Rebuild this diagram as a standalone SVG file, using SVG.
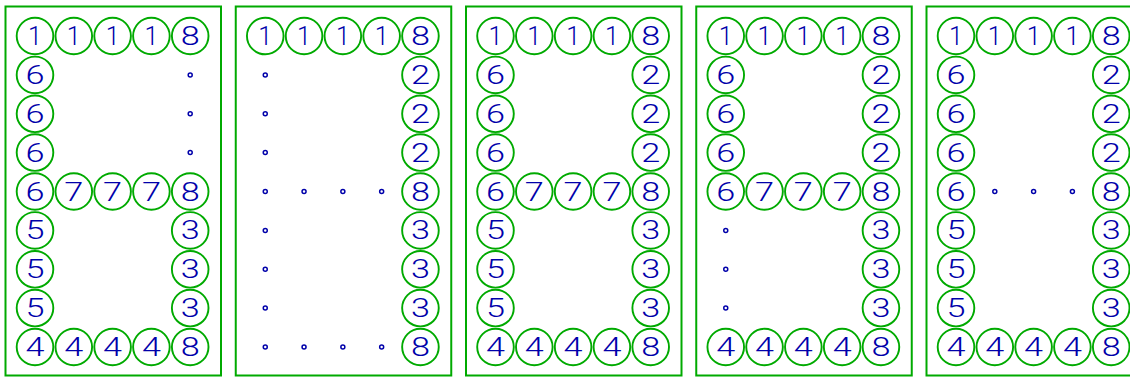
<svg xmlns="http://www.w3.org/2000/svg" width="1130" height="377" viewBox="0 0 1130 377">
<style>
.frame{fill:none;stroke:#00aa00;stroke-width:2}
.n circle{fill:none;stroke:#00aa00;stroke-width:1.9}
.n text{font-family:Roboto,"DejaVu Sans",sans-serif;font-weight:300;font-size:25px;fill:#0000aa;text-anchor:middle}
.dot{fill:none;stroke:#0000aa;stroke-width:1.5}
</style>
<rect width="1130" height="377" fill="#fff"/>

<!-- Panel 1 -->
<g id="panel1" transform="translate(5,0)">
<rect class="frame" x="0.5" y="6.5" width="215.5" height="369"/>
<g id="p1-0-0" class="n" transform="translate(30,36)"><circle r="18.3"/><text y="9">1</text></g>
<g id="p1-0-1" class="n" transform="translate(68.8,36)"><circle r="18.3"/><text y="9">1</text></g>
<g id="p1-0-2" class="n" transform="translate(107.6,36)"><circle r="18.3"/><text y="9">1</text></g>
<g id="p1-0-3" class="n" transform="translate(146.4,36)"><circle r="18.3"/><text y="9">1</text></g>
<g id="p1-0-4" class="n" transform="translate(185.2,36)"><circle r="18.3"/><text y="9" textLength="19" lengthAdjust="spacingAndGlyphs">8</text></g>
<g id="p1-1-0" class="n" transform="translate(30,74.9)"><circle r="18.3"/><text y="9" textLength="19" lengthAdjust="spacingAndGlyphs">6</text></g>
<circle id="p1-1-4" class="dot" cx="185.2" cy="74.9" r="2"/>
<g id="p1-2-0" class="n" transform="translate(30,113.8)"><circle r="18.3"/><text y="9" textLength="19" lengthAdjust="spacingAndGlyphs">6</text></g>
<circle id="p1-2-4" class="dot" cx="185.2" cy="113.8" r="2"/>
<g id="p1-3-0" class="n" transform="translate(30,152.6)"><circle r="18.3"/><text y="9" textLength="19" lengthAdjust="spacingAndGlyphs">6</text></g>
<circle id="p1-3-4" class="dot" cx="185.2" cy="152.6" r="2"/>
<g id="p1-4-0" class="n" transform="translate(30,191.5)"><circle r="18.3"/><text y="9" textLength="19" lengthAdjust="spacingAndGlyphs">6</text></g>
<g id="p1-4-1" class="n" transform="translate(68.8,191.5)"><circle r="18.3"/><text y="9" textLength="19" lengthAdjust="spacingAndGlyphs">7</text></g>
<g id="p1-4-2" class="n" transform="translate(107.6,191.5)"><circle r="18.3"/><text y="9" textLength="19" lengthAdjust="spacingAndGlyphs">7</text></g>
<g id="p1-4-3" class="n" transform="translate(146.4,191.5)"><circle r="18.3"/><text y="9" textLength="19" lengthAdjust="spacingAndGlyphs">7</text></g>
<g id="p1-4-4" class="n" transform="translate(185.2,191.5)"><circle r="18.3"/><text y="9" textLength="19" lengthAdjust="spacingAndGlyphs">8</text></g>
<g id="p1-5-0" class="n" transform="translate(30,230.4)"><circle r="18.3"/><text y="9" textLength="19" lengthAdjust="spacingAndGlyphs">5</text></g>
<g id="p1-5-4" class="n" transform="translate(185.2,230.4)"><circle r="18.3"/><text y="9" textLength="19" lengthAdjust="spacingAndGlyphs">3</text></g>
<g id="p1-6-0" class="n" transform="translate(30,269.3)"><circle r="18.3"/><text y="9" textLength="19" lengthAdjust="spacingAndGlyphs">5</text></g>
<g id="p1-6-4" class="n" transform="translate(185.2,269.3)"><circle r="18.3"/><text y="9" textLength="19" lengthAdjust="spacingAndGlyphs">3</text></g>
<g id="p1-7-0" class="n" transform="translate(30,308.1)"><circle r="18.3"/><text y="9" textLength="19" lengthAdjust="spacingAndGlyphs">5</text></g>
<g id="p1-7-4" class="n" transform="translate(185.2,308.1)"><circle r="18.3"/><text y="9" textLength="19" lengthAdjust="spacingAndGlyphs">3</text></g>
<g id="p1-8-0" class="n" transform="translate(30,347)"><circle r="18.3"/><text y="9" textLength="19" lengthAdjust="spacingAndGlyphs">4</text></g>
<g id="p1-8-1" class="n" transform="translate(68.8,347)"><circle r="18.3"/><text y="9" textLength="19" lengthAdjust="spacingAndGlyphs">4</text></g>
<g id="p1-8-2" class="n" transform="translate(107.6,347)"><circle r="18.3"/><text y="9" textLength="19" lengthAdjust="spacingAndGlyphs">4</text></g>
<g id="p1-8-3" class="n" transform="translate(146.4,347)"><circle r="18.3"/><text y="9" textLength="19" lengthAdjust="spacingAndGlyphs">4</text></g>
<g id="p1-8-4" class="n" transform="translate(185.2,347)"><circle r="18.3"/><text y="9" textLength="19" lengthAdjust="spacingAndGlyphs">8</text></g>
</g>

<!-- Panel 2 -->
<g id="panel2" transform="translate(235.25,0)">
<rect class="frame" x="0.5" y="6.5" width="215.5" height="369"/>
<g id="p2-0-0" class="n" transform="translate(30,36)"><circle r="18.3"/><text y="9">1</text></g>
<g id="p2-0-1" class="n" transform="translate(68.8,36)"><circle r="18.3"/><text y="9">1</text></g>
<g id="p2-0-2" class="n" transform="translate(107.6,36)"><circle r="18.3"/><text y="9">1</text></g>
<g id="p2-0-3" class="n" transform="translate(146.4,36)"><circle r="18.3"/><text y="9">1</text></g>
<g id="p2-0-4" class="n" transform="translate(185.2,36)"><circle r="18.3"/><text y="9" textLength="19" lengthAdjust="spacingAndGlyphs">8</text></g>
<circle id="p2-1-0" class="dot" cx="30" cy="74.9" r="2"/>
<g id="p2-1-4" class="n" transform="translate(185.2,74.9)"><circle r="18.3"/><text y="9" textLength="19" lengthAdjust="spacingAndGlyphs">2</text></g>
<circle id="p2-2-0" class="dot" cx="30" cy="113.8" r="2"/>
<g id="p2-2-4" class="n" transform="translate(185.2,113.8)"><circle r="18.3"/><text y="9" textLength="19" lengthAdjust="spacingAndGlyphs">2</text></g>
<circle id="p2-3-0" class="dot" cx="30" cy="152.6" r="2"/>
<g id="p2-3-4" class="n" transform="translate(185.2,152.6)"><circle r="18.3"/><text y="9" textLength="19" lengthAdjust="spacingAndGlyphs">2</text></g>
<circle id="p2-4-0" class="dot" cx="30" cy="191.5" r="2"/>
<circle id="p2-4-1" class="dot" cx="68.8" cy="191.5" r="2"/>
<circle id="p2-4-2" class="dot" cx="107.6" cy="191.5" r="2"/>
<circle id="p2-4-3" class="dot" cx="146.4" cy="191.5" r="2"/>
<g id="p2-4-4" class="n" transform="translate(185.2,191.5)"><circle r="18.3"/><text y="9" textLength="19" lengthAdjust="spacingAndGlyphs">8</text></g>
<circle id="p2-5-0" class="dot" cx="30" cy="230.4" r="2"/>
<g id="p2-5-4" class="n" transform="translate(185.2,230.4)"><circle r="18.3"/><text y="9" textLength="19" lengthAdjust="spacingAndGlyphs">3</text></g>
<circle id="p2-6-0" class="dot" cx="30" cy="269.3" r="2"/>
<g id="p2-6-4" class="n" transform="translate(185.2,269.3)"><circle r="18.3"/><text y="9" textLength="19" lengthAdjust="spacingAndGlyphs">3</text></g>
<circle id="p2-7-0" class="dot" cx="30" cy="308.1" r="2"/>
<g id="p2-7-4" class="n" transform="translate(185.2,308.1)"><circle r="18.3"/><text y="9" textLength="19" lengthAdjust="spacingAndGlyphs">3</text></g>
<circle id="p2-8-0" class="dot" cx="30" cy="347" r="2"/>
<circle id="p2-8-1" class="dot" cx="68.8" cy="347" r="2"/>
<circle id="p2-8-2" class="dot" cx="107.6" cy="347" r="2"/>
<circle id="p2-8-3" class="dot" cx="146.4" cy="347" r="2"/>
<g id="p2-8-4" class="n" transform="translate(185.2,347)"><circle r="18.3"/><text y="9" textLength="19" lengthAdjust="spacingAndGlyphs">8</text></g>
</g>

<!-- Panel 3 -->
<g id="panel3" transform="translate(465.5,0)">
<rect class="frame" x="0.5" y="6.5" width="215.5" height="369"/>
<g id="p3-0-0" class="n" transform="translate(30,36)"><circle r="18.3"/><text y="9">1</text></g>
<g id="p3-0-1" class="n" transform="translate(68.8,36)"><circle r="18.3"/><text y="9">1</text></g>
<g id="p3-0-2" class="n" transform="translate(107.6,36)"><circle r="18.3"/><text y="9">1</text></g>
<g id="p3-0-3" class="n" transform="translate(146.4,36)"><circle r="18.3"/><text y="9">1</text></g>
<g id="p3-0-4" class="n" transform="translate(185.2,36)"><circle r="18.3"/><text y="9" textLength="19" lengthAdjust="spacingAndGlyphs">8</text></g>
<g id="p3-1-0" class="n" transform="translate(30,74.9)"><circle r="18.3"/><text y="9" textLength="19" lengthAdjust="spacingAndGlyphs">6</text></g>
<g id="p3-1-4" class="n" transform="translate(185.2,74.9)"><circle r="18.3"/><text y="9" textLength="19" lengthAdjust="spacingAndGlyphs">2</text></g>
<g id="p3-2-0" class="n" transform="translate(30,113.8)"><circle r="18.3"/><text y="9" textLength="19" lengthAdjust="spacingAndGlyphs">6</text></g>
<g id="p3-2-4" class="n" transform="translate(185.2,113.8)"><circle r="18.3"/><text y="9" textLength="19" lengthAdjust="spacingAndGlyphs">2</text></g>
<g id="p3-3-0" class="n" transform="translate(30,152.6)"><circle r="18.3"/><text y="9" textLength="19" lengthAdjust="spacingAndGlyphs">6</text></g>
<g id="p3-3-4" class="n" transform="translate(185.2,152.6)"><circle r="18.3"/><text y="9" textLength="19" lengthAdjust="spacingAndGlyphs">2</text></g>
<g id="p3-4-0" class="n" transform="translate(30,191.5)"><circle r="18.3"/><text y="9" textLength="19" lengthAdjust="spacingAndGlyphs">6</text></g>
<g id="p3-4-1" class="n" transform="translate(68.8,191.5)"><circle r="18.3"/><text y="9" textLength="19" lengthAdjust="spacingAndGlyphs">7</text></g>
<g id="p3-4-2" class="n" transform="translate(107.6,191.5)"><circle r="18.3"/><text y="9" textLength="19" lengthAdjust="spacingAndGlyphs">7</text></g>
<g id="p3-4-3" class="n" transform="translate(146.4,191.5)"><circle r="18.3"/><text y="9" textLength="19" lengthAdjust="spacingAndGlyphs">7</text></g>
<g id="p3-4-4" class="n" transform="translate(185.2,191.5)"><circle r="18.3"/><text y="9" textLength="19" lengthAdjust="spacingAndGlyphs">8</text></g>
<g id="p3-5-0" class="n" transform="translate(30,230.4)"><circle r="18.3"/><text y="9" textLength="19" lengthAdjust="spacingAndGlyphs">5</text></g>
<g id="p3-5-4" class="n" transform="translate(185.2,230.4)"><circle r="18.3"/><text y="9" textLength="19" lengthAdjust="spacingAndGlyphs">3</text></g>
<g id="p3-6-0" class="n" transform="translate(30,269.3)"><circle r="18.3"/><text y="9" textLength="19" lengthAdjust="spacingAndGlyphs">5</text></g>
<g id="p3-6-4" class="n" transform="translate(185.2,269.3)"><circle r="18.3"/><text y="9" textLength="19" lengthAdjust="spacingAndGlyphs">3</text></g>
<g id="p3-7-0" class="n" transform="translate(30,308.1)"><circle r="18.3"/><text y="9" textLength="19" lengthAdjust="spacingAndGlyphs">5</text></g>
<g id="p3-7-4" class="n" transform="translate(185.2,308.1)"><circle r="18.3"/><text y="9" textLength="19" lengthAdjust="spacingAndGlyphs">3</text></g>
<g id="p3-8-0" class="n" transform="translate(30,347)"><circle r="18.3"/><text y="9" textLength="19" lengthAdjust="spacingAndGlyphs">4</text></g>
<g id="p3-8-1" class="n" transform="translate(68.8,347)"><circle r="18.3"/><text y="9" textLength="19" lengthAdjust="spacingAndGlyphs">4</text></g>
<g id="p3-8-2" class="n" transform="translate(107.6,347)"><circle r="18.3"/><text y="9" textLength="19" lengthAdjust="spacingAndGlyphs">4</text></g>
<g id="p3-8-3" class="n" transform="translate(146.4,347)"><circle r="18.3"/><text y="9" textLength="19" lengthAdjust="spacingAndGlyphs">4</text></g>
<g id="p3-8-4" class="n" transform="translate(185.2,347)"><circle r="18.3"/><text y="9" textLength="19" lengthAdjust="spacingAndGlyphs">8</text></g>
</g>

<!-- Panel 4 -->
<g id="panel4" transform="translate(695.75,0)">
<rect class="frame" x="0.5" y="6.5" width="215.5" height="369"/>
<g id="p4-0-0" class="n" transform="translate(30,36)"><circle r="18.3"/><text y="9">1</text></g>
<g id="p4-0-1" class="n" transform="translate(68.8,36)"><circle r="18.3"/><text y="9">1</text></g>
<g id="p4-0-2" class="n" transform="translate(107.6,36)"><circle r="18.3"/><text y="9">1</text></g>
<g id="p4-0-3" class="n" transform="translate(146.4,36)"><circle r="18.3"/><text y="9">1</text></g>
<g id="p4-0-4" class="n" transform="translate(185.2,36)"><circle r="18.3"/><text y="9" textLength="19" lengthAdjust="spacingAndGlyphs">8</text></g>
<g id="p4-1-0" class="n" transform="translate(30,74.9)"><circle r="18.3"/><text y="9" textLength="19" lengthAdjust="spacingAndGlyphs">6</text></g>
<g id="p4-1-4" class="n" transform="translate(185.2,74.9)"><circle r="18.3"/><text y="9" textLength="19" lengthAdjust="spacingAndGlyphs">2</text></g>
<g id="p4-2-0" class="n" transform="translate(30,113.8)"><circle r="18.3"/><text y="9" textLength="19" lengthAdjust="spacingAndGlyphs">6</text></g>
<g id="p4-2-4" class="n" transform="translate(185.2,113.8)"><circle r="18.3"/><text y="9" textLength="19" lengthAdjust="spacingAndGlyphs">2</text></g>
<g id="p4-3-0" class="n" transform="translate(30,152.6)"><circle r="18.3"/><text y="9" textLength="19" lengthAdjust="spacingAndGlyphs">6</text></g>
<g id="p4-3-4" class="n" transform="translate(185.2,152.6)"><circle r="18.3"/><text y="9" textLength="19" lengthAdjust="spacingAndGlyphs">2</text></g>
<g id="p4-4-0" class="n" transform="translate(30,191.5)"><circle r="18.3"/><text y="9" textLength="19" lengthAdjust="spacingAndGlyphs">6</text></g>
<g id="p4-4-1" class="n" transform="translate(68.8,191.5)"><circle r="18.3"/><text y="9" textLength="19" lengthAdjust="spacingAndGlyphs">7</text></g>
<g id="p4-4-2" class="n" transform="translate(107.6,191.5)"><circle r="18.3"/><text y="9" textLength="19" lengthAdjust="spacingAndGlyphs">7</text></g>
<g id="p4-4-3" class="n" transform="translate(146.4,191.5)"><circle r="18.3"/><text y="9" textLength="19" lengthAdjust="spacingAndGlyphs">7</text></g>
<g id="p4-4-4" class="n" transform="translate(185.2,191.5)"><circle r="18.3"/><text y="9" textLength="19" lengthAdjust="spacingAndGlyphs">8</text></g>
<circle id="p4-5-0" class="dot" cx="30" cy="230.4" r="2"/>
<g id="p4-5-4" class="n" transform="translate(185.2,230.4)"><circle r="18.3"/><text y="9" textLength="19" lengthAdjust="spacingAndGlyphs">3</text></g>
<circle id="p4-6-0" class="dot" cx="30" cy="269.3" r="2"/>
<g id="p4-6-4" class="n" transform="translate(185.2,269.3)"><circle r="18.3"/><text y="9" textLength="19" lengthAdjust="spacingAndGlyphs">3</text></g>
<circle id="p4-7-0" class="dot" cx="30" cy="308.1" r="2"/>
<g id="p4-7-4" class="n" transform="translate(185.2,308.1)"><circle r="18.3"/><text y="9" textLength="19" lengthAdjust="spacingAndGlyphs">3</text></g>
<g id="p4-8-0" class="n" transform="translate(30,347)"><circle r="18.3"/><text y="9" textLength="19" lengthAdjust="spacingAndGlyphs">4</text></g>
<g id="p4-8-1" class="n" transform="translate(68.8,347)"><circle r="18.3"/><text y="9" textLength="19" lengthAdjust="spacingAndGlyphs">4</text></g>
<g id="p4-8-2" class="n" transform="translate(107.6,347)"><circle r="18.3"/><text y="9" textLength="19" lengthAdjust="spacingAndGlyphs">4</text></g>
<g id="p4-8-3" class="n" transform="translate(146.4,347)"><circle r="18.3"/><text y="9" textLength="19" lengthAdjust="spacingAndGlyphs">4</text></g>
<g id="p4-8-4" class="n" transform="translate(185.2,347)"><circle r="18.3"/><text y="9" textLength="19" lengthAdjust="spacingAndGlyphs">8</text></g>
</g>

<!-- Panel 5 -->
<g id="panel5" transform="translate(926,0)">
<rect class="frame" x="0.5" y="6.5" width="215.5" height="369"/>
<g id="p5-0-0" class="n" transform="translate(30,36)"><circle r="18.3"/><text y="9">1</text></g>
<g id="p5-0-1" class="n" transform="translate(68.8,36)"><circle r="18.3"/><text y="9">1</text></g>
<g id="p5-0-2" class="n" transform="translate(107.6,36)"><circle r="18.3"/><text y="9">1</text></g>
<g id="p5-0-3" class="n" transform="translate(146.4,36)"><circle r="18.3"/><text y="9">1</text></g>
<g id="p5-0-4" class="n" transform="translate(185.2,36)"><circle r="18.3"/><text y="9" textLength="19" lengthAdjust="spacingAndGlyphs">8</text></g>
<g id="p5-1-0" class="n" transform="translate(30,74.9)"><circle r="18.3"/><text y="9" textLength="19" lengthAdjust="spacingAndGlyphs">6</text></g>
<g id="p5-1-4" class="n" transform="translate(185.2,74.9)"><circle r="18.3"/><text y="9" textLength="19" lengthAdjust="spacingAndGlyphs">2</text></g>
<g id="p5-2-0" class="n" transform="translate(30,113.8)"><circle r="18.3"/><text y="9" textLength="19" lengthAdjust="spacingAndGlyphs">6</text></g>
<g id="p5-2-4" class="n" transform="translate(185.2,113.8)"><circle r="18.3"/><text y="9" textLength="19" lengthAdjust="spacingAndGlyphs">2</text></g>
<g id="p5-3-0" class="n" transform="translate(30,152.6)"><circle r="18.3"/><text y="9" textLength="19" lengthAdjust="spacingAndGlyphs">6</text></g>
<g id="p5-3-4" class="n" transform="translate(185.2,152.6)"><circle r="18.3"/><text y="9" textLength="19" lengthAdjust="spacingAndGlyphs">2</text></g>
<g id="p5-4-0" class="n" transform="translate(30,191.5)"><circle r="18.3"/><text y="9" textLength="19" lengthAdjust="spacingAndGlyphs">6</text></g>
<circle id="p5-4-1" class="dot" cx="68.8" cy="191.5" r="2"/>
<circle id="p5-4-2" class="dot" cx="107.6" cy="191.5" r="2"/>
<circle id="p5-4-3" class="dot" cx="146.4" cy="191.5" r="2"/>
<g id="p5-4-4" class="n" transform="translate(185.2,191.5)"><circle r="18.3"/><text y="9" textLength="19" lengthAdjust="spacingAndGlyphs">8</text></g>
<g id="p5-5-0" class="n" transform="translate(30,230.4)"><circle r="18.3"/><text y="9" textLength="19" lengthAdjust="spacingAndGlyphs">5</text></g>
<g id="p5-5-4" class="n" transform="translate(185.2,230.4)"><circle r="18.3"/><text y="9" textLength="19" lengthAdjust="spacingAndGlyphs">3</text></g>
<g id="p5-6-0" class="n" transform="translate(30,269.3)"><circle r="18.3"/><text y="9" textLength="19" lengthAdjust="spacingAndGlyphs">5</text></g>
<g id="p5-6-4" class="n" transform="translate(185.2,269.3)"><circle r="18.3"/><text y="9" textLength="19" lengthAdjust="spacingAndGlyphs">3</text></g>
<g id="p5-7-0" class="n" transform="translate(30,308.1)"><circle r="18.3"/><text y="9" textLength="19" lengthAdjust="spacingAndGlyphs">5</text></g>
<g id="p5-7-4" class="n" transform="translate(185.2,308.1)"><circle r="18.3"/><text y="9" textLength="19" lengthAdjust="spacingAndGlyphs">3</text></g>
<g id="p5-8-0" class="n" transform="translate(30,347)"><circle r="18.3"/><text y="9" textLength="19" lengthAdjust="spacingAndGlyphs">4</text></g>
<g id="p5-8-1" class="n" transform="translate(68.8,347)"><circle r="18.3"/><text y="9" textLength="19" lengthAdjust="spacingAndGlyphs">4</text></g>
<g id="p5-8-2" class="n" transform="translate(107.6,347)"><circle r="18.3"/><text y="9" textLength="19" lengthAdjust="spacingAndGlyphs">4</text></g>
<g id="p5-8-3" class="n" transform="translate(146.4,347)"><circle r="18.3"/><text y="9" textLength="19" lengthAdjust="spacingAndGlyphs">4</text></g>
<g id="p5-8-4" class="n" transform="translate(185.2,347)"><circle r="18.3"/><text y="9" textLength="19" lengthAdjust="spacingAndGlyphs">8</text></g>
</g>
</svg>
